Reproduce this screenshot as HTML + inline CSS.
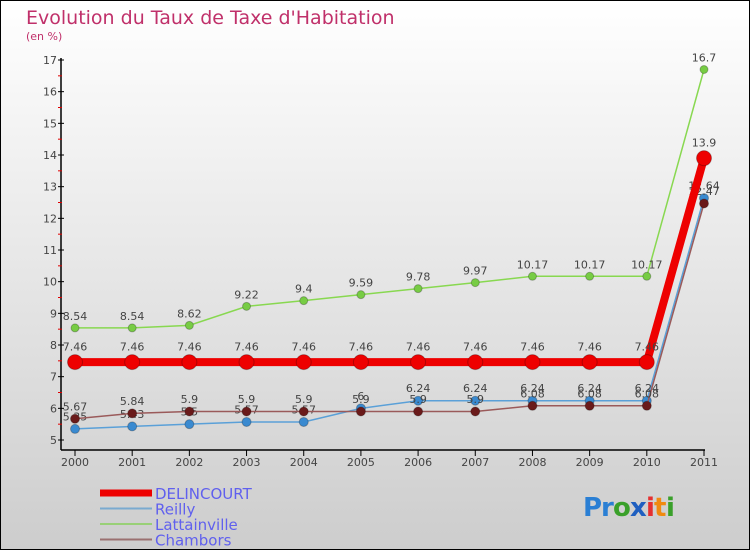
<!DOCTYPE html>
<html><head><meta charset="utf-8"><style>
body{margin:0}
#c{position:relative;width:750px;height:550px;}
svg text{font-family:"DejaVu Sans","Liberation Sans",sans-serif;}
</style></head><body>
<div id="c">
<svg id="s" width="750" height="550" xmlns="http://www.w3.org/2000/svg">
<defs><linearGradient id="bg" x1="0" y1="0" x2="0" y2="1"><stop offset="0" stop-color="#ffffff"/><stop offset="1" stop-color="#cdcdcd"/></linearGradient></defs>
<rect x="0.5" y="0.5" width="749" height="549" fill="url(#bg)" stroke="#000"/>
<text x="26" y="24" font-size="19" fill="#c0306a">Evolution du Taux de Taxe d'Habitation</text>
<text x="26" y="40" font-size="11" fill="#c0306a">(en %)</text>
<g id="axes"></g><g id="series"></g><g id="legend"></g>
<g font-size="26" font-weight="bold">
<text x="583" y="516" fill="#2a7fd4">P</text><text x="601" y="516" fill="#2a7fd4">r</text><text x="613" y="516" fill="#3aa02a">o</text><text x="630" y="516" fill="#1f5fc0">x</text><text x="646" y="516" fill="#e53030">i</text><text x="654" y="516" fill="#f08a10">t</text><text x="666" y="516" fill="#3aa02a">i</text>
</g>
</svg></div>
<script>
const years=["2000","2001","2002","2003","2004","2005","2006","2007","2008","2009","2010","2011"];
const yTicks=[5,6,7,8,9,10,11,12,13,14,15,16,17];
const delincourt=[7.46,7.46,7.46,7.46,7.46,7.46,7.46,7.46,7.46,7.46,7.46,13.9];
const reilly=[5.35,5.43,5.5,5.57,5.57,6,6.24,6.24,6.24,6.24,6.24,12.64];
const lattainville=[8.54,8.54,8.62,9.22,9.4,9.59,9.78,9.97,10.17,10.17,10.17,16.7];
const chambors=[5.67,5.84,5.9,5.9,5.9,5.9,5.9,5.9,6.08,6.08,6.08,12.47];
const NS="http://www.w3.org/2000/svg";
function X(i){return 75+i*(704-75)/(years.length-1);}
function Y(v){return 440-(v-5)*(380/12);}
function mk(tag,at,parent){const e=document.createElementNS(NS,tag);for(const k in at)e.setAttribute(k,at[k]);parent.appendChild(e);return e;}
const ax=document.getElementById('axes'),sg=document.getElementById('series'),lg=document.getElementById('legend');
let yl=mk('line',{x1:61,y1:58,x2:61,y2:450,stroke:'#000','stroke-width':1.5},ax);


let xl=mk('line',{x1:61,y1:450,x2:705,y2:450,stroke:'#000','stroke-width':1.5},ax);


yTicks.forEach((v,i)=>{
 mk('line',{x1:58,y1:Y(v),x2:64,y2:Y(v),stroke:'#000'},ax);
 if(i<yTicks.length-1)mk('line',{x1:58,y1:Y(v+0.5),x2:62,y2:Y(v+0.5),stroke:'#e00000'},ax);
 const t=mk('text',{x:57,y:Y(v)+4,'font-size':11,fill:'#444','text-anchor':'end'},ax);
 t.textContent=v;
 
 
});
years.forEach((y,i)=>{
 mk('line',{x1:X(i),y1:450,x2:X(i),y2:456,stroke:'#000'},ax);
 const t=mk('text',{x:X(i),y:466,'font-size':11,fill:'#444','text-anchor':'middle'},ax);
 t.textContent=y;
 
 
});
const series=[
 {name:'lattainville',data:lattainville,color:'#88d850',pt:'#77cc44',w:1.5,r:4},
 {name:'reilly',data:reilly,color:'#5aa0d8',pt:'#3a8ad0',w:1.5,r:4.5},
 {name:'chambors',data:chambors,color:'#9a5a5a',pt:'#6a1a1a',w:1.5,r:4.5},
 {name:'delincourt',data:delincourt,color:'#ee0000',pt:'#ee0000',w:8,r:7.5}
];
series.forEach(s=>{
 const g=mk('g',{},sg);
 
 
 const p=mk('polyline',{points:s.data.map((v,i)=>X(i)+','+Y(v)).join(' '),fill:'none',stroke:s.color,'stroke-width':s.w},g);
 
 
 s.data.forEach((v,i)=>{
  const c=mk('circle',{cx:X(i),cy:Y(v),r:s.r,fill:s.pt,stroke:'rgba(0,0,0,0.25)'},g);
  
  
  const t=mk('text',{x:X(i),y:Y(v)-s.r-4,'font-size':11,fill:'#444','text-anchor':'middle'},g);
  t.textContent=String(v);
  
  
 });
});
const leg=[['DELINCOURT','#ee0000',7],['Reilly','#7aaad0',2],['Lattainville','#99d077',2],['Chambors','#9a7070',2]];
leg.forEach((l,i)=>{
 const y=493+i*15.5;
 const ln=mk('line',{x1:100,y1:y,x2:152,y2:y,stroke:l[1],'stroke-width':l[2]},lg);
 
 
 const t=mk('text',{x:155,y:y+6,'font-size':15,fill:'#6060ee'},lg);
 t.textContent=l[0];
 
 
});
</script>
</body></html>
